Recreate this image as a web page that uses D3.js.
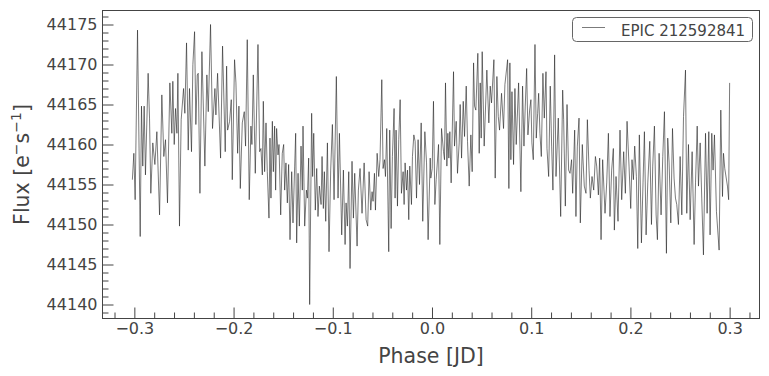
<!DOCTYPE html>
<html>
<head>
<meta charset="utf-8">
<script src="https://cdn.jsdelivr.net/npm/d3@7"></script>
<style>
  body { margin: 0; background: #fff; }
  svg { display: block; font-family: "DejaVu Sans", sans-serif; }
</style>
</head>
<body>
<svg id="chart" width="769" height="376"></svg>
<script>
// folded light curve
const phase = [
  -0.3020,-0.3005,-0.2992,-0.2968,-0.2941,-0.2928,-0.2915,-0.2901,-0.2888,-0.2861,
  -0.2847,-0.2834,-0.2814,-0.2793,-0.2773,-0.2746,-0.2723,-0.2703,-0.2686,-0.2666,
  -0.2642,-0.2622,-0.2612,-0.2598,-0.2585,-0.2571,-0.2561,-0.2545,-0.2528,-0.2504,
  -0.2491,-0.2474,-0.2457,-0.2444,-0.2424,-0.2410,-0.2393,-0.2380,-0.2366,-0.2356,
  -0.2339,-0.2319,-0.2289,-0.2269,-0.2255,-0.2232,-0.2212,-0.2188,-0.2178,-0.2161,
  -0.2131,-0.2111,-0.2084,-0.2070,-0.2060,-0.2040,
  -0.2023,-0.2013,-0.1990,-0.1976,-0.1959,-0.1946,-0.1932,-0.1912,-0.1892,-0.1879,
  -0.1862,-0.1842,-0.1825,-0.1815,-0.1801,-0.1781,-0.1754,-0.1737,-0.1724,-0.1710,
  -0.1700,-0.1687,-0.1673,-0.1660,-0.1643,-0.1633,-0.1623,-0.1609,-0.1599,-0.1586,
  -0.1576,-0.1566,-0.1552,-0.1542,-0.1525,-0.1509,-0.1495,-0.1485,-0.1472,-0.1458,
  -0.1445,-0.1431,-0.1414,-0.1401,-0.1384,-0.1374,-0.1364,-0.1350,-0.1337,-0.1320,
  -0.1307,-0.1300,-0.1283,-0.1266,-0.1256,-0.1243,-0.1233,-0.1213,-0.1203,-0.1192,
  -0.1176,-0.1162,-0.1149,-0.1135,-0.1118,-0.1108,-0.1095,-0.1085,-0.1071,-0.1054,
  -0.1038,
  -0.1021,-0.1004,-0.0987,-0.0964,-0.0947,-0.0933,-0.0910,-0.0893,-0.0876,-0.0866,
  -0.0853,-0.0839,-0.0826,-0.0806,-0.0792,-0.0779,-0.0755,-0.0742,-0.0725,-0.0705,
  -0.0684,-0.0664,-0.0648,-0.0634,-0.0617,-0.0604,-0.0594,-0.0580,-0.0570,-0.0553,
  -0.0537,-0.0524,-0.0506,-0.0493,-0.0479,-0.0469,-0.0456,-0.0436,-0.0426,-0.0412,
  -0.0399,-0.0382,-0.0372,-0.0362,-0.0348,-0.0335,-0.0321,-0.0308,-0.0291,-0.0281,
  -0.0271,-0.0257,-0.0247,-0.0234,-0.0224,-0.0207,-0.0197,-0.0183,-0.0170,-0.0156,
  -0.0140,-0.0126,-0.0109,-0.0093,-0.0072,-0.0055,-0.0039,-0.0018,
  -0.0012,0.0002,0.0015,0.0029,0.0042,0.0066,0.0079,0.0096,0.0116,0.0126,
  0.0136,0.0150,0.0160,0.0170,0.0180,0.0193,0.0217,0.0227,0.0244,0.0257,
  0.0274,0.0284,0.0298,0.0315,0.0328,0.0345,0.0358,0.0375,0.0392,0.0405,
  0.0419,0.0429,0.0442,0.0462,0.0476,0.0486,0.0496,0.0506,0.0526,0.0553,
  0.0573,0.0587,0.0600,0.0624,0.0637,0.0654,0.0668,0.0681,0.0701,0.0721,
  0.0735,0.0762,0.0775,0.0785,0.0795,0.0806,0.0822,0.0836,0.0849,0.0873,
  0.0896,0.0913,0.0927,0.0940,0.0954,0.0967,0.0984,
  0.0997,0.1007,0.1021,0.1038,0.1051,0.1065,0.1075,0.1088,0.1102,0.1118,
  0.1132,0.1149,0.1159,0.1176,0.1192,0.1206,0.1219,0.1236,0.1250,0.1273,
  0.1297,0.1317,0.1327,0.1344,0.1361,0.1377,0.1391,0.1407,0.1418,0.1438,
  0.1451,0.1465,0.1482,0.1495,0.1515,0.1535,0.1552,0.1566,0.1583,0.1596,
  0.1613,0.1630,0.1647,0.1660,0.1677,0.1690,0.1704,0.1720,0.1744,0.1761,
  0.1778,0.1794,0.1811,0.1828,0.1838,0.1855,0.1875,0.1895,0.1912,0.1932,
  0.1949,0.1966,0.1986,
  0.2003,0.2016,0.2030,0.2043,0.2060,0.2074,0.2090,0.2111,0.2127,0.2141,
  0.2158,0.2175,0.2195,0.2212,0.2225,0.2242,0.2259,0.2272,0.2289,0.2309,
  0.2326,0.2343,0.2363,0.2376,0.2390,0.2407,0.2424,0.2440,0.2454,0.2467,
  0.2484,0.2501,0.2518,0.2535,0.2555,0.2568,0.2585,0.2602,0.2622,0.2642,
  0.2656,0.2673,0.2686,0.2703,0.2719,0.2736,0.2757,0.2773,0.2790,0.2803,
  0.2820,0.2833,0.2847,0.2867,0.2894,0.2911,0.2928,0.2938,0.2951,0.2978,
  0.2990,0.3000
];

const flux = [
  44155.6,44158.9,44153.1,44174.3,44148.5,44164.8,44157.3,44164.8,44156.2,44168.9,
  44163.3,44153.9,44160.2,44157.5,44161.6,44151.2,44166.2,44158.5,44160.6,44152.7,
  44167.7,44161.4,44167.9,44160.0,44164.5,44161.4,44168.9,44149.8,44163.1,44167.0,
  44163.9,44172.7,44159.3,44167.0,44159.1,44170.0,44174.1,44162.5,44168.7,44168.9,
  44153.9,44171.6,44157.3,44168.7,44164.1,44175.0,44162.0,44167.0,44163.7,44168.9,
  44158.3,44172.3,44159.1,44169.8,44161.8,44162.9,
  44165.6,44155.6,44170.6,44167.7,44158.9,44164.8,44154.5,44162.7,44164.1,44159.8,
  44173.1,44153.1,44162.3,44160.0,44168.7,44156.4,44172.5,44159.1,44159.5,44156.2,
  44165.4,44156.6,44162.7,44156.6,44150.8,44160.8,44153.3,44162.9,44156.6,44162.3,
  44154.3,44162.0,44158.7,44160.0,44151.2,44158.9,44160.0,44154.3,44157.7,44152.7,
  44157.5,44148.1,44156.6,44150.2,44157.3,44161.4,44147.7,44156.4,44149.8,44159.8,
  44154.3,44162.3,44149.8,44154.3,44153.3,44158.3,44140.0,44163.9,44156.0,44161.4,
  44151.8,44157.0,44151.0,44154.8,44152.5,44158.5,44152.0,44156.6,44150.4,44160.2,
  44146.6,
  44156.8,44162.5,44153.1,44168.5,44153.3,44161.4,44148.7,44156.8,44147.5,44152.7,
  44149.8,44156.6,44144.5,44157.9,44150.8,44156.4,44147.3,44154.3,44157.0,44151.4,
  44157.7,44150.6,44149.8,44156.6,44151.8,44154.1,44152.9,44156.4,44151.8,44158.9,
  44156.0,44158.1,44168.1,44157.0,44158.1,44156.0,44162.0,44146.6,44161.8,44149.5,
  44158.5,44164.5,44153.3,44161.8,44152.3,44160.6,44165.6,44153.9,44156.6,44152.5,
  44157.7,44154.3,44156.8,44150.6,44157.3,44152.5,44158.5,44161.2,44160.4,44153.3,
  44160.6,44155.0,44162.7,44150.4,44161.6,44157.7,44148.1,44158.3,
  44155.8,44157.0,44165.4,44152.5,44155.6,44160.0,44147.5,44162.0,44159.1,44158.1,
  44167.7,44157.3,44161.4,44158.3,44161.6,44155.2,44169.1,44159.8,44162.9,44156.4,
  44160.2,44165.0,44158.3,44165.4,44161.0,44167.3,44160.4,44154.8,44161.2,44156.6,
  44170.2,44164.8,44164.3,44171.4,44158.9,44167.7,44160.8,44171.6,44159.8,44169.3,
  44162.7,44167.3,44165.2,44170.6,44155.8,44168.5,44163.5,44161.8,44166.4,44162.0,
  44167.5,44170.6,44154.5,44170.2,44158.1,44166.6,44157.5,44167.0,44160.0,44167.7,
  44154.1,44167.3,44159.8,44164.8,44169.5,44161.2,44164.3,
  44165.6,44160.2,44158.1,44172.5,44160.8,44163.9,44166.4,44161.4,44158.5,44168.9,
  44163.3,44169.1,44159.5,44156.0,44167.3,44159.8,44154.3,44171.2,44156.0,44163.3,
  44151.0,44166.8,44163.1,44152.3,44165.0,44156.8,44156.4,44158.1,44153.9,44161.8,
  44151.0,44159.8,44163.3,44150.2,44160.0,44154.8,44153.9,44163.1,44156.8,44153.3,
  44156.0,44154.3,44158.5,44157.3,44153.7,44158.3,44148.1,44158.1,44151.4,44155.2,
  44161.4,44151.0,44156.8,44159.5,44149.3,44156.0,44150.4,44161.8,44153.1,44159.1,
  44153.9,44162.9,44157.3,
  44152.0,44158.1,44155.6,44159.8,44156.0,44147.0,44161.2,44147.7,44155.2,44161.6,
  44148.7,44155.2,44160.4,44150.0,44157.3,44162.3,44151.2,44148.1,44158.9,44151.2,
  44158.5,44164.1,44146.4,44160.8,44157.7,44150.2,44162.0,44155.8,44153.3,44152.5,
  44150.0,44158.5,44151.2,44163.5,44169.3,44151.4,44160.0,44150.6,44159.1,44147.5,
  44155.2,44162.3,44154.8,44160.2,44153.3,44146.2,44161.4,44151.4,44161.6,44148.7,
  44161.4,44156.8,44161.2,44151.6,44146.8,44164.3,44153.5,44158.9,44157.0,44154.8,
  44153.1,44167.7
];

const xTicks = [-0.3, -0.2, -0.1, 0.0, 0.1, 0.2, 0.3];
const yTicks = [44140, 44145, 44150, 44155, 44160, 44165, 44170, 44175];
const seriesName = "EPIC 212592841";
const xTitle = "Phase [JD]";

const svg = d3.select("#chart");
const plotL = 102.5, plotR = 759.5, plotT = 10.5, plotB = 318.5;
const ink = "#444444";

const points = d3.zip(phase, flux);

// matplotlib-like 5% margins
function padded(ext) {
  const m = (ext[1] - ext[0]) * 0.05;
  return [ext[0] - m, ext[1] + m];
}

const x = d3.scaleLinear().domain(padded(d3.extent(phase))).range([plotL, plotR]);
const y = d3.scaleLinear().domain(padded(d3.extent(flux))).range([plotB, plotT]);

svg.append("clipPath").attr("id", "plotArea")
  .append("rect")
  .attr("x", plotL).attr("y", plotT)
  .attr("width", plotR - plotL).attr("height", plotB - plotT);

// minor ticks
const xMinor = d3.range(-16, 17).filter(i => i % 5 != 0).map(i => i * 0.02);
const yMinor = d3.range(Math.ceil(y.domain()[0]), Math.floor(y.domain()[1]) + 1).filter(v => v % 5 != 0);

svg.append("g")
  .attr("transform", `translate(0,${plotB})`)
  .call(d3.axisBottom(x).tickValues(xMinor).tickSize(-6).tickFormat(""))
  .call(g => g.select(".domain").remove());

svg.append("g")
  .attr("transform", `translate(${plotL},0)`)
  .call(d3.axisLeft(y).tickValues(yMinor).tickSize(-6).tickFormat(""))
  .call(g => g.select(".domain").remove());

// major ticks with labels
svg.append("g")
  .attr("transform", `translate(0,${plotB})`)
  .call(d3.axisBottom(x).tickValues(xTicks).tickSizeInner(-11).tickSizeOuter(0)
    .tickPadding(4).tickFormat(d3.format(".1f")))
  .call(g => g.select(".domain").remove());

svg.append("g")
  .attr("transform", `translate(${plotL},0)`)
  .call(d3.axisLeft(y).tickValues(yTicks).tickSizeInner(-11).tickSizeOuter(0)
    .tickPadding(5).tickFormat(d3.format("d")))
  .call(g => g.select(".domain").remove());

svg.selectAll(".tick line").attr("stroke", ink);
svg.selectAll(".tick text")
  .attr("fill", ink)
  .attr("font-size", 16)
  .attr("font-family", "DejaVu Sans, sans-serif");

// the light curve
svg.append("path")
  .datum(points)
  .attr("clip-path", "url(#plotArea)")
  .attr("fill", "none")
  .attr("stroke", "#222")
  .attr("stroke-width", 0.6)
  .attr("stroke-linejoin", "round")
  .attr("d", d3.line().x(d => x(d[0])).y(d => y(d[1])));

// frame
svg.append("rect")
  .attr("x", plotL).attr("y", plotT)
  .attr("width", plotR - plotL).attr("height", plotB - plotT)
  .attr("fill", "none")
  .attr("stroke", ink)
  .attr("stroke-width", 1);

// axis titles
svg.append("text")
  .attr("x", (plotL + plotR) / 2).attr("y", 363)
  .attr("text-anchor", "middle")
  .attr("font-size", 20.5)
  .attr("fill", ink)
  .text(xTitle);

const yTitle = svg.append("text")
  .attr("transform", `translate(29,${(plotT + plotB) / 2}) rotate(-90)`)
  .attr("text-anchor", "middle")
  .attr("font-size", 20.5)
  .attr("fill", ink);
yTitle.append("tspan").text("Flux [e");
yTitle.append("tspan").attr("font-size", 14).attr("dy", -8).text("\u2212");
yTitle.append("tspan").attr("dy", 8).text("s");
yTitle.append("tspan").attr("font-size", 14).attr("dy", -8).text("\u22121");
yTitle.append("tspan").attr("dy", 8).text("]");

// legend
const legend = svg.append("g");
legend.append("rect")
  .attr("x", 572.5).attr("y", 17.5)
  .attr("width", 180).attr("height", 24)
  .attr("rx", 4)
  .attr("fill", "#fff")
  .attr("fill-opacity", 0.8)
  .attr("stroke", "#666")
  .attr("stroke-width", 1);
legend.append("line")
  .attr("x1", 582).attr("x2", 605)
  .attr("y1", 27.5).attr("y2", 27.5)
  .attr("stroke", "#222")
  .attr("stroke-width", 0.6);
legend.append("text")
  .attr("x", 621).attr("y", 35.5)
  .attr("font-size", 15)
  .attr("fill", ink)
  .text(seriesName);
</script>
</body>
</html>
